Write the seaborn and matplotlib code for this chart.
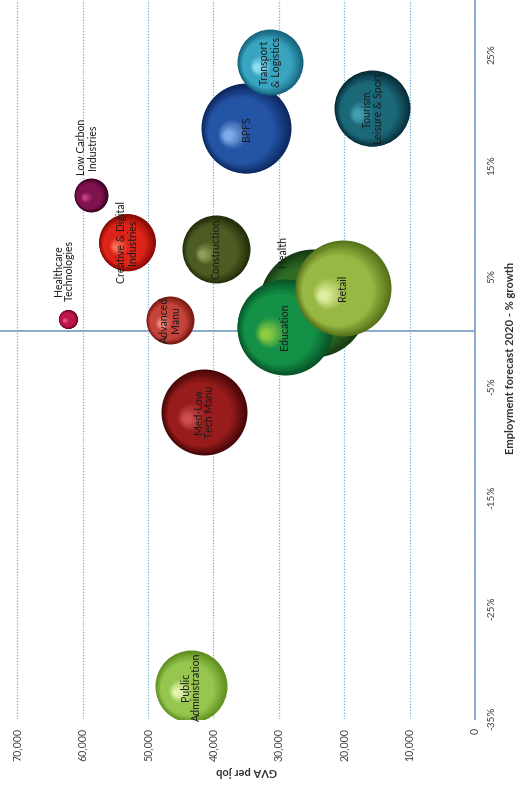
import numpy as np
import pandas as pd
import matplotlib
matplotlib.use("Agg")
import matplotlib.pyplot as plt
import seaborn as sns
from matplotlib.colors import LinearSegmentedColormap
from matplotlib.patches import Circle
from matplotlib.transforms import ScaledTranslation

# ---------------- data ----------------
sectors = ["Health", "Education", "Retail", "BPFS", "Med-Low Tech Manu",
           "Tourism, Leisure & Sport", "Public Administration", "Construction",
           "Transport & Logistics", "Creative & Digital Industries",
           "Advanced Manu", "Low Carbon Industries", "Healthcare Technologies"]
labels = ["Health", "Education", "Retail", "BPFS", "Med-Low\nTech Manu",
          "Tourism,\nLeisure & Sport", "Public\nAdministration", "Construction",
          "Transport\n& Logistics", "Creative & Digital\nIndustries",
          "Advanced\nManu", "Low Carbon\nIndustries", "Healthcare\nTechnologies"]
gva_per_job = [24800, 29100, 20200, 35000, 41400, 15700, 43400, 39600,
               31300, 53200, 46600, 58700, 62200]
growth_pct = [2.5, 0.4, 3.9, 18.3, -7.3, 20.1, -32.1, 7.4,
              24.3, 8.0, 1.0, 12.3, 1.1]
employment_k = [72.9, 57.6, 57.6, 50.6, 46.2, 36.1, 32.4, 28.9,
                27.2, 20.3, 14.4, 7.2, 2.3]

gva_ticks = [0, 10000, 20000, 30000, 40000, 50000, 60000, 70000]
gva_tick_labels = ["0", "10,000", "20,000", "30,000", "40,000", "50,000", "60,000", "70,000"]
growth_ticks = [-35, -25, -15, -5, 5, 15, 25]
growth_tick_labels = ["-35%", "-25%", "-15%", "-5%", "5%", "15%", "25%"]

# ---------------- styles ----------------
# (dark rim, body, highlight)
bubble_colors = [
    ("#163a12", "#2f6c26", "#5a9c40"),   # Health
    ("#085428", "#149047", "#9ad040"),   # Education
    ("#56721a", "#98b844", "#e6f2a6"),   # Retail
    ("#0c2860", "#2454a4", "#86b4ee"),   # BPFS
    ("#460606", "#991c1c", "#d25252"),   # Med-Low
    ("#082e38", "#1b6879", "#46a6b8"),   # Tourism
    ("#5f9020", "#96c64e", "#ecf6b6"),   # Public Admin
    ("#222c0a", "#4c5c22", "#93a45e"),   # Construction
    ("#15627a", "#39a4c0", "#96e4f4"),   # Transport
    ("#860a06", "#dc2418", "#ff7258"),   # Creative
    ("#74160f", "#c6443c", "#f49484"),   # Advanced
    ("#360320", "#80124e", "#cc4490"),   # Low Carbon
    ("#5a041c", "#be164a", "#f45a90"),   # Healthcare
]
label_offsets_pt = [(-22, 37), (0, 0), (0, 0), (0, 0), (0, 0), (0, 0), (0, 0),
                    (0, 0), (0, 0), (0, 0), (0, 0), (-3, 34.5), (-3, 34.5)]
clip_label = [False, True, True, True, True, True, True, True, True, False,
              True, False, False]

df = pd.DataFrame({"sector": sectors, "gva": gva_per_job,
                   "growth": growth_pct, "employment": employment_k})

sns.set_theme(style="white")
plt.rcParams["font.family"] = ["Lato", "DejaVu Sans"]

DPI = 100
fig = plt.figure(figsize=(5.16, 7.85), dpi=DPI)
ax = fig.add_axes([0, 66.5 / 785, 475 / 516, 718.5 / 785])
ax.set_xlim(72630, 0)
ax.set_ylim(-35, 29.9)

VMAX = 80.0
SMAX = (1.44 ** 2) * 40 * VMAX     # marker area (pt^2) for VMAX

N_LAYERS = 40
hl_dir = np.array([-0.42, -0.16])   # highlight direction (fraction of radius)

for i, row in df.iterrows():
    dark, body, light = bubble_colors[i]
    cmap = LinearSegmentedColormap.from_list(
        f"c{i}", [(0.0, dark), (0.28, body), (0.7, body), (1.0, light)])
    sub = df.iloc[[i]]
    z0 = 10 + i
    sns.scatterplot(data=sub, x="gva", y="growth", size="employment",
                    sizes=(0, SMAX), size_norm=(0, VMAX), color=dark,
                    linewidth=0, legend=False, ax=ax, zorder=z0)
    s_full = SMAX * row["employment"] / VMAX
    r_pt = np.sqrt(s_full) / 2.0
    for k in range(1, N_LAYERS):
        t = k / N_LAYERS
        f = 1 - 0.93 * t
        off = t * hl_dir * r_pt / 72.0
        tr = ax.transData + ScaledTranslation(off[0], off[1], fig.dpi_scale_trans)
        ax.scatter([row["gva"]], [row["growth"]], s=s_full * f * f,
                   color=cmap(t), linewidths=0, transform=tr,
                   zorder=z0 + 0.9 * t)
    dx, dy = label_offsets_pt[i]
    ttr = ax.transData + ScaledTranslation(dx / 72.0, dy / 72.0, fig.dpi_scale_trans)
    txt = ax.text(row["gva"], row["growth"], labels[i], rotation=90,
                  ha="center", va="center", multialignment="center",
                  fontsize=7.6, color="#1a1a1a", transform=ttr, zorder=100,
                  linespacing=1.05)
    if clip_label[i]:
        circ = Circle((0, 0), r_pt / 72.0,
                      transform=fig.dpi_scale_trans +
                      ScaledTranslation(row["gva"], row["growth"], ax.transData))
        txt.set_clip_path(circ)

# ---------------- axes styling ----------------
ax.set_xticks(gva_ticks)
ax.set_xticklabels(gva_tick_labels, rotation=90, fontsize=7.6, color="#404040")
ax.yaxis.tick_right()
ax.set_yticks(growth_ticks)
ax.set_yticklabels(growth_tick_labels, rotation=90, va="center",
                   fontsize=7.2, color="#404040")
ax.tick_params(axis="x", length=0, pad=7)
ax.tick_params(axis="y", length=0, pad=9)
ax.set_xlabel("")
ax.set_ylabel("")
ax.grid(True, axis="x", linestyle=(0, (1, 1.3)), color="#6cb2d6", linewidth=0.9)
ax.grid(False, axis="y")
ax.set_axisbelow(True)
for side in ["top", "left", "bottom"]:
    ax.spines[side].set_visible(False)
ax.spines["right"].set_color("#7fa3c4")
ax.spines["right"].set_linewidth(1.3)
ax.axhline(0, color="#7fa3c4", linewidth=1.3, zorder=1)

fig.text(247 / 516, 1 - 772 / 785, "GVA per job", rotation=180, ha="center",
         va="center", fontsize=8, fontweight="bold", color="#303030")
fig.text(510 / 516, 1 - 358 / 785, "Employment forecast 2020 - % growth",
         rotation=90, ha="center", va="center", fontsize=8,
         fontweight="bold", color="#303030")

fig.savefig("out.png", dpi=DPI, facecolor="white")
